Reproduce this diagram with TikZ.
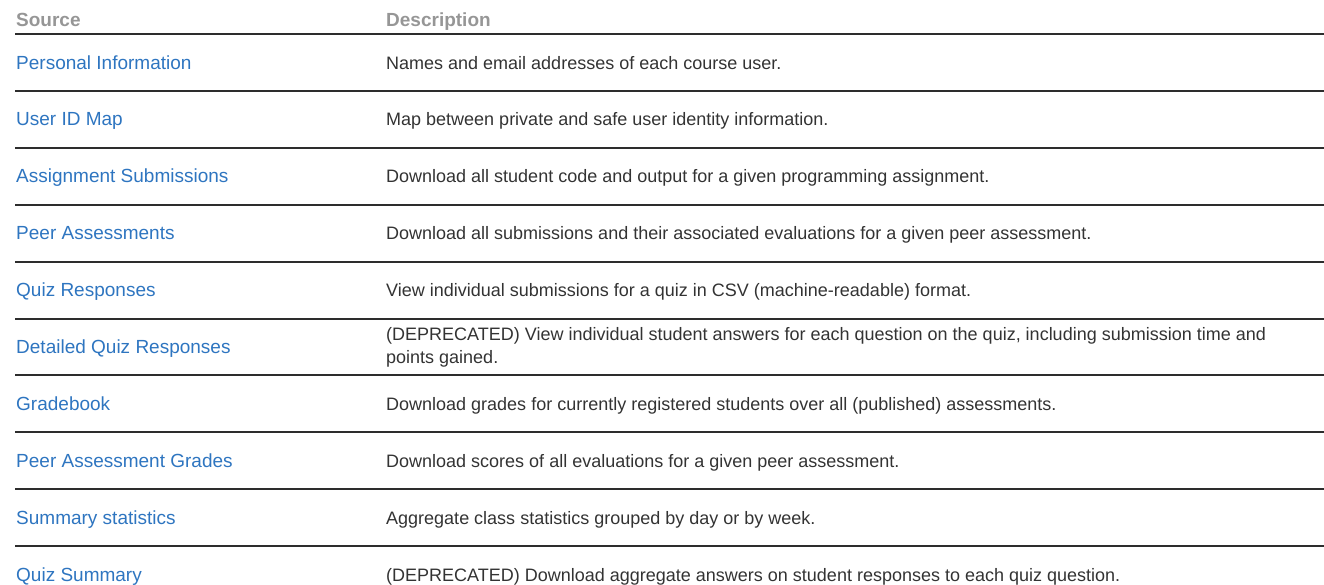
\documentclass[tikz,border=0pt]{standalone}
\usepackage{fontspec}
\setmainfont{Liberation Sans}
\usetikzlibrary{positioning}
\definecolor{linkblue}{RGB}{46, 117, 192}
\definecolor{bodytext}{RGB}{51, 51, 51}
\definecolor{headgray}{RGB}{150, 150, 150}
\definecolor{rulegray}{RGB}{45, 45, 45}
\tikzstyle{header} = [
    anchor=base west,
    inner sep=0pt,
    text=headgray,
    font=\fontsize{19}{23}\selectfont\bfseries
]
\tikzstyle{source} = [
    anchor=base west,
    inner sep=0pt,
    text=linkblue,
    font=\fontsize{19}{23}\selectfont
]
\tikzstyle{desc} = [
    source,
    text=bodytext,
    align=left,
    font=\fontsize{18}{23}\selectfont
]
\tikzstyle{rule} = [
    line width=2pt,
    draw=rulegray
]
\begin{document}
\begin{tikzpicture}[x=1pt,y=-1pt]
    \useasboundingbox (0,0) rectangle (1324,584);
    \node[header] (hsrc) at (16,26) {Source};
    \node[header] (hdesc) at (386,26) {Description};
    \foreach \s/\d/\o [count=\i] in {
        {Personal Information}/{Names and email addresses of each course user.}/0,
        {User ID Map}/{Map between private and safe user identity information.}/0,
        {Assignment Submissions}/{Download all student code and output for a given programming assignment.}/0,
        {Peer Assessments}/{Download all submissions and their associated evaluations for a given peer assessment.}/0,
        {Quiz Responses}/{View individual submissions for a quiz in CSV (machine-readable) format.}/0,
        {Detailed Quiz Responses}/{(DEPRECATED) View individual student answers for each question on the quiz, including submission time and\\points gained.}/10,
        {Gradebook}/{Download grades for currently registered students over all (published) assessments.}/0,
        {Peer Assessment Grades}/{Download scores of all evaluations for a given peer assessment.}/0,
        {Summary statistics}/{Aggregate class statistics grouped by day or by week.}/0,
        {Quiz Summary}/{(DEPRECATED) Download aggregate answers on student responses to each quiz question.}/0
    } {
        \coordinate (l\i) at (15,{34+(\i-1)*56.9});
        \draw[rule] (l\i) -- ++(1309,0);
        \node[source] (src\i) at (16,{69+(\i-1)*56.9}) {\s};
        \node[desc] (desc\i) at (386,{69+(\i-1)*56.9+\o}) {\d};
    }
\end{tikzpicture}
\end{document}
